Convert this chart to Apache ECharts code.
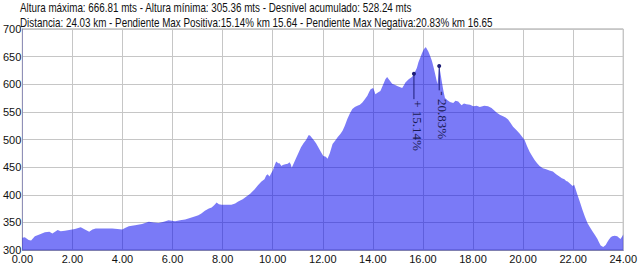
<!DOCTYPE html>
<html><head><meta charset="utf-8">
<script src="https://cdn.jsdelivr.net/npm/echarts@6/dist/echarts.min.js"></script>
<style>html,body{margin:0;padding:0;background:#fff}#c{width:640px;height:264px}</style>
</head><body><div id="c"></div>
<script>
const titleLine1 = "Altura máxima: 666.81 mts - Altura mínima: 305.36 mts - Desnivel acumulado: 528.24 mts";
const titleLine2 = "Distancia: 24.03 km - Pendiente Max Positiva:15.14% km 15.64 - Pendiente Max Negativa:20.83% km 16.65";

const km = [0.00,0.10,0.25,0.35,0.50,0.73,0.90,1.08,1.20,1.41,1.53,1.70,1.87,2.10,2.33,2.50,2.67,2.80,2.93,3.11,3.40,3.59,3.80,3.99,4.10,4.25,4.50,4.78,5.05,5.25,5.44,5.65,5.84,6.10,6.30,6.50,6.63,6.85,7.03,7.15,7.29,7.45,7.56,7.66,7.76,7.85,7.96,8.15,8.35,8.50,8.62,8.80,8.95,9.10,9.28,9.41,9.55,9.67,9.74,9.80,9.87,9.95,10.01,10.10,10.14,10.22,10.27,10.35,10.40,10.50,10.60,10.67,10.72,10.76,10.85,10.93,11.03,11.13,11.23,11.33,11.40,11.44,11.50,11.53,11.62,11.73,11.82,11.92,12.02,12.12,12.19,12.28,12.39,12.50,12.59,12.70,12.79,12.88,12.98,13.08,13.18,13.28,13.38,13.48,13.58,13.68,13.78,13.85,13.91,14.01,14.06,14.10,14.20,14.30,14.40,14.50,14.57,14.65,14.77,14.87,14.97,15.07,15.17,15.24,15.30,15.43,15.56,15.64,15.70,15.76,15.82,15.89,15.96,16.03,16.10,16.13,16.22,16.30,16.36,16.43,16.49,16.55,16.58,16.62,16.65,16.70,16.75,16.82,16.88,16.98,17.08,17.21,17.30,17.41,17.48,17.54,17.64,17.74,17.88,18.01,18.15,18.27,18.45,18.60,18.74,18.84,18.94,19.07,19.20,19.30,19.40,19.50,19.60,19.73,19.86,19.96,20.06,20.16,20.26,20.36,20.46,20.56,20.66,20.79,20.92,21.05,21.19,21.32,21.45,21.55,21.65,21.72,21.78,21.88,21.98,22.04,22.10,22.17,22.27,22.37,22.47,22.57,22.67,22.77,22.87,22.97,23.03,23.10,23.20,23.30,23.36,23.43,23.50,23.56,23.66,23.76,23.83,23.89,23.95,24.00];
const altitude = [322,323,318,317,325,329,332,333,330,336,334,335,336,338,341,337,333,337,339,339,339,339,338,337,340,343,345,347,351,350,349,351,354,352,354,355,357,360,363,366,371,375,377,381,386,383,382,382,382,384,388,392,397,402,410,417,424,428,435,437,433,440,445,456,460,457,457,452,454,455,456,459,455,449,458,466,476,486,493,499,505,508,507,505,500,493,486,478,470,469,465,475,492,498,504,510,516,525,537,547,555,559,561,563,567,573,579,586,591,593,588,582,585,588,598,609,613,608,601,599,597,595,593,598,603,609,613,618,624,630,640,648,656,663,666.81,666,659,650,642,630,618,606,600,618,633,620,606,588,575,571,568,566,570,569,565,562,565,564,563,560,561,559,561,560,557,553,549,545,542,540,536,530,523,517,511,505,499,488,478,470,463,457,452,448,446,444,442,437,433,430,428,425,424,420,416,418,410,400,387,373,360,349,341,334,327,320,314,308,305.36,309,314,319,323,325,326,325,322,320,324,328];

// slope markers: [km, top altitude, stem end altitude]
const markerKm = [15.64, 16.65];
const markerTop = [619, 633];
const markerEnd = [573, 589];
const markerText = ["+ 15.14%", "- 20.83%"];

const xMin = 0, xMax = 24, xStep = 2;
const yMin = 300, yMax = 700, yStep = 50;

const chart = echarts.init(document.getElementById('c'), null, {renderer: 'svg'});
const profile = km.map((k, i) => [k, altitude[i]]);

const markerSeries = markerKm.map((k, i) => ({
  type: 'line',
  data: [[k, markerTop[i]], [k, markerEnd[i]]],
  symbol: 'circle',
  symbolSize: (v, p) => p.dataIndex === 0 ? 4 : 0,
  showSymbol: true,
  lineStyle: {color: '#1e1e78', width: 1},
  itemStyle: {color: '#1e1e78'},
  silent: true,
  z: 5
}));

const gridLine = {show: true, lineStyle: {type: 'solid', color: '#c6c6c6', width: 1}};

chart.setOption({
  animation: false,
  grid: {left: 20, right: 15, top: 29, bottom: 13, show: true, borderColor: '#a0a0a0', borderWidth: 1},
  xAxis: {
    type: 'value', min: xMin, max: xMax, interval: xStep,
    axisLine: {show: true, lineStyle: {color: '#8080b0'}},
    axisTick: {show: false},
    axisLabel: {fontFamily: 'Liberation Sans', fontSize: 11, color: '#111', margin: 3, formatter: v => v.toFixed(2)},
    splitLine: gridLine
  },
  yAxis: {
    type: 'value', min: yMin, max: yMax, interval: yStep,
    axisLine: {show: true, lineStyle: {color: '#9090b8'}},
    axisTick: {show: false},
    axisLabel: {fontFamily: 'Liberation Sans', fontSize: 11, color: '#111', margin: 1, padding: [0, 0, 7, 0]},
    splitLine: gridLine
  },
  series: [{
    type: 'line',
    data: profile,
    symbol: 'none',
    lineStyle: {width: 0},
    areaStyle: {color: 'rgba(0,0,240,0.52)', opacity: 1, origin: 'start'},
    silent: true,
    z: 2
  }].concat(markerSeries)
});

const titleLines = [titleLine1, titleLine2];
const graphics = markerKm.map((k, i) => {
  const p = chart.convertToPixel({gridIndex: 0}, [k, markerEnd[i]]);
  return {
    type: 'text',
    x: p[0] + 3.5, y: p[1] + 1,
    rotation: -Math.PI / 2,
    z: 10,
    style: {text: markerText[i], fill: '#1a1a55', font: '13px "Liberation Serif"', align: 'left', verticalAlign: 'middle'}
  };
}).concat(titleLines.map((t, i) => ({
  type: 'text',
  x: 20, y: 8 + i * 15,
  scaleX: 0.82,
  z: 10,
  style: {text: t, fill: '#111', font: '12px "Liberation Sans"', align: 'left', verticalAlign: 'middle'}
})));
chart.setOption({graphic: graphics});
</script>
</body></html>
